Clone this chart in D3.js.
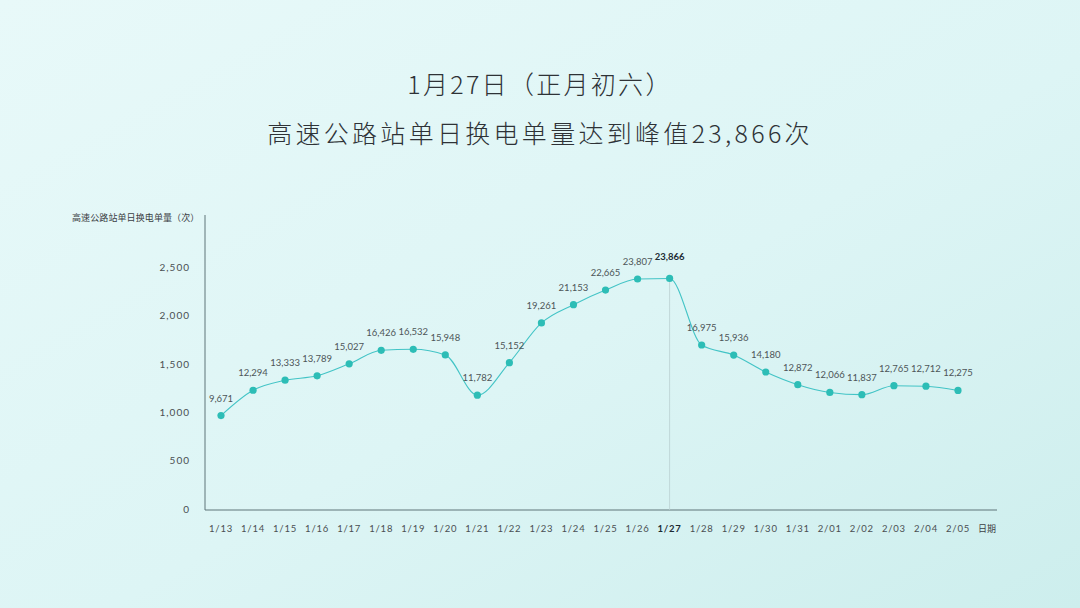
<!DOCTYPE html>
<html>
<head>
<meta charset="utf-8">
<script src="https://cdn.jsdelivr.net/npm/d3@7"></script>
<style>
  html, body { margin: 0; padding: 0; }
  body { width: 1080px; height: 608px; overflow: hidden; }
  svg { display: block; }
</style>
</head>
<body>
<svg width="1080" height="608"></svg>
<script>
// data
const dates = ['1/13','1/14','1/15','1/16','1/17','1/18','1/19','1/20','1/21','1/22','1/23','1/24',
  '1/25','1/26','1/27','1/28','1/29','1/30','1/31','2/01','2/02','2/03','2/04','2/05'];
const swaps = [9671,12294,13333,13789,15027,16426,16532,15948,11782,15152,19261,21153,
  22665,23807,23866,16975,15936,14180,12872,12066,11837,12765,12712,12275];
const yTicks = [0, 5000, 10000, 15000, 20000, 25000];
const yTickLabels = ['0','500','1,000','1,500','2,000','2,500'];
const peakDate = '1/27';
const titleLines = ['1月27日（正月初六）', '高速公路站单日换电单量达到峰值23,866次'];
const yTitle = '高速公路站单日换电单量（次）';
const xTitle = '日期';

const svg = d3.select('svg');
const numFont = 'Lato, "Noto Sans", sans-serif';
const cjkFont = '"Noto Sans CJK SC", "Noto Sans", sans-serif';

// background
const defs = svg.append('defs');
const grad = defs.append('linearGradient')
    .attr('id', 'bg')
    .attr('x1', '0%').attr('y1', '0%')
    .attr('x2', '100%').attr('y2', '100%');
grad.append('stop').attr('offset', '0%').attr('stop-color', '#e8f9f9');
grad.append('stop').attr('offset', '55%').attr('stop-color', '#ddf5f5');
grad.append('stop').attr('offset', '100%').attr('stop-color', '#cdeeed');
svg.append('rect')
    .attr('width', 1080).attr('height', 608)
    .attr('fill', 'url(#bg)');

// titles
svg.selectAll('text.title')
    .data(titleLines)
    .enter().append('text')
    .attr('class', 'title')
    .attr('x', 540)
    .attr('y', (d, i) => 94 + i * 49)
    .attr('text-anchor', 'middle')
    .attr('font-family', cjkFont)
    .attr('font-weight', 300)
    .attr('font-size', 25)
    .attr('letter-spacing', (d, i) => i ? 3.3 : 2.3)
    .attr('fill', '#2e3236')
    .text(d => d);

const x = d3.scalePoint().domain(dates).range([221, 958]);
const y = d3.scaleLinear().domain([0, 25000]).range([509, 267.5]);

const axisColor = '#5f7479';
const labelColor = '#4a4f52';

// axes lines
svg.append('line')
    .attr('x1', 205).attr('y1', 215)
    .attr('x2', 205).attr('y2', 510)
    .attr('stroke', axisColor).attr('stroke-width', 1);
svg.append('line')
    .attr('x1', 205).attr('y1', 510)
    .attr('x2', 997).attr('y2', 510)
    .attr('stroke', axisColor).attr('stroke-width', 1);

// y ticks
svg.selectAll('text.ytick')
    .data(yTicks)
    .enter().append('text')
    .attr('class', 'ytick')
    .attr('x', 190)
    .attr('y', d => y(d) + 3.5)
    .attr('text-anchor', 'end')
    .attr('font-family', numFont)
    .attr('font-size', 10)
    .attr('letter-spacing', 1)
    .attr('fill', labelColor)
    .text((d, i) => yTickLabels[i]);

svg.append('text')
    .attr('x', 72).attr('y', 221)
    .attr('font-family', cjkFont)
    .attr('font-size', 9)
    .attr('letter-spacing', 0.1)
    .attr('fill', '#3b4044')
    .text(yTitle);

// x ticks
svg.selectAll('text.xtick')
    .data(dates)
    .enter().append('text')
    .attr('class', 'xtick')
    .attr('x', d => x(d))
    .attr('y', 532)
    .attr('text-anchor', 'middle')
    .attr('font-family', numFont)
    .attr('font-size', 9.5)
    .attr('letter-spacing', 0.8)
    .attr('font-weight', d => d === peakDate ? 700 : 400)
    .attr('fill', d => d === peakDate ? '#1c2a33' : labelColor)
    .text(d => d);

svg.append('text')
    .attr('x', 978).attr('y', 532)
    .attr('font-family', cjkFont)
    .attr('font-size', 9)
    .attr('fill', '#3b4044')
    .text(xTitle);

const points = dates.map((d, i) => ({ date: d, value: swaps[i] }));
const peak = points.find(p => p.date === peakDate);

// guide line at the peak
svg.append('line')
    .attr('x1', x(peak.date)).attr('x2', x(peak.date))
    .attr('y1', y(peak.value)).attr('y2', 510)
    .attr('stroke', '#b9cfd1').attr('stroke-width', 0.8);

// curve
const line = d3.line()
    .x(d => x(d.date))
    .y(d => y(d.value))
    .curve(d3.curveMonotoneX);

svg.append('path')
    .datum(points)
    .attr('d', line)
    .attr('fill', 'none')
    .attr('stroke', '#43c4c6')
    .attr('stroke-width', 1.1);

svg.selectAll('circle.dot')
    .data(points)
    .enter().append('circle')
    .attr('class', 'dot')
    .attr('cx', d => x(d.date))
    .attr('cy', d => y(d.value))
    .attr('r', 3.6)
    .attr('fill', '#2dbdb6');

// value labels
svg.selectAll('text.val')
    .data(points)
    .enter().append('text')
    .attr('class', 'val')
    .attr('x', d => x(d.date))
    .attr('y', d => y(d.value) - (d === peak ? 18 : 14))
    .attr('text-anchor', 'middle')
    .attr('font-family', numFont)
    .attr('font-size', 9.5)
    .attr('font-weight', d => d === peak ? 700 : 400)
    .attr('fill', d => d === peak ? '#1c2a33' : '#4d5558')
    .text(d => d3.format(',')(d.value));
</script>
</body>
</html>
